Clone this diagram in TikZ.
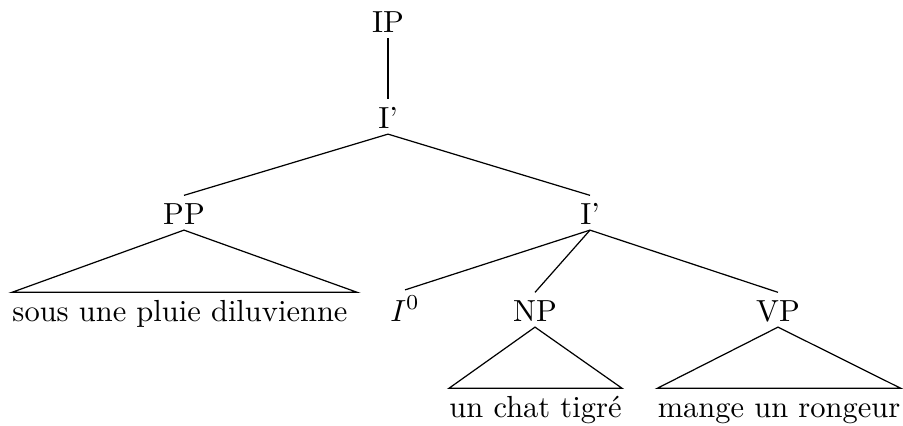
\documentclass[tikz,border=0pt]{standalone}
\begin{document}
\begin{tikzpicture}[x=0.3279pt,y=-0.3279pt,
  cat/.style={inner xsep=0pt,inner ysep=0pt,anchor=base,text height=9.2pt,text depth=1.8pt},
  branch/.style={draw=black,line width=0.4pt}]
\useasboundingbox (0,0) rectangle (903,425);
\node[cat] (IP) at (388,32) {IP};
\node[cat] (I1) at (388,128) {I'};
\node[cat] (PP) at (184,224) {PP};
\node[cat] (I2) at (590,224) {I'};
\node[cat] (L1) at (180,321) {sous une pluie diluvienne};
\node[cat,text height=10pt] (I0) at (405,321) {$I^0$};
\node[cat] (NP) at (535,321) {NP};
\node[cat] (VP) at (778,321) {VP};
\node[cat] (L2) at (535.5,417) {un chat tigré};
\node[cat] (L3) at (779,417) {mange un rongeur};
\draw[branch] (IP.south) -- (I1.north);
\draw[branch] (I1.south) -- (PP.north);
\draw[branch] (I1.south) -- (I2.north);
\draw[branch] (I2.south) -- (I0.north);
\draw[branch] (I2.south) -- (NP.north);
\draw[branch] (I2.south) -- (VP.north);
\draw[branch] (PP.south) -- (L1.north west) -- ([xshift=3pt]L1.north east) -- cycle;
\draw[branch] (NP.south) -- (L2.north west) -- (L2.north east) -- cycle;
\draw[branch] (VP.south) -- (L3.north west) -- (L3.north east) -- cycle;
\end{tikzpicture}
\end{document}
